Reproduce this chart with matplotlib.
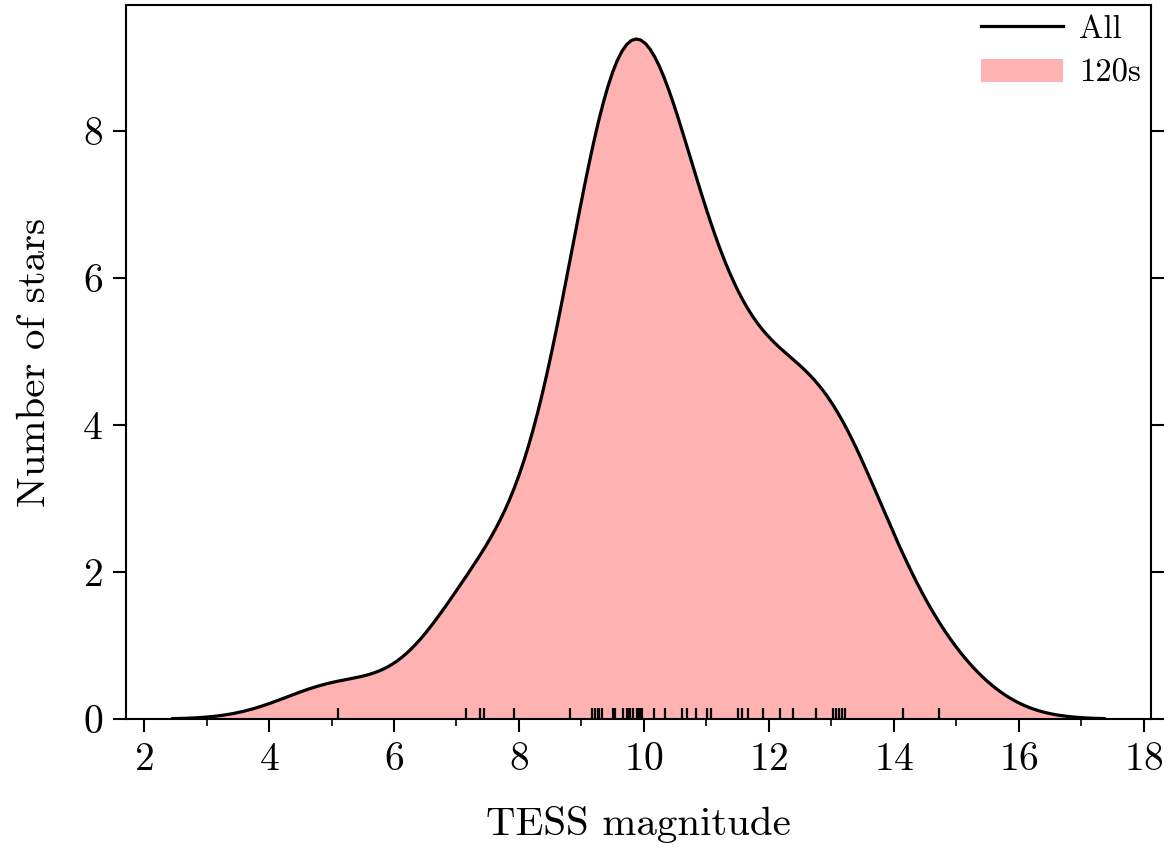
import numpy as np
import matplotlib.pyplot as plt
from matplotlib.lines import Line2D
from matplotlib.patches import Patch

plt.rcParams['font.family'] = 'cmr10'
plt.rcParams['mathtext.fontset'] = 'cm'
plt.rcParams['axes.formatter.use_mathtext'] = True

# TESS magnitudes of the stars (read off the rug marks; the solid block
# near 9.8 hides several stars)
tmag = [5.10, 7.16, 7.37, 7.44, 7.92, 8.82, 9.17, 9.22, 9.26, 9.28,
        9.33, 9.50, 9.54, 9.66, 9.73, 9.76, 9.78, 9.83, 9.89,
        9.91, 9.94, 9.97, 10.16, 10.34, 10.61, 10.69, 10.84, 11.01, 11.07,
        11.50, 11.57, 11.67, 11.91, 12.18, 12.39, 12.76, 13.02, 13.08, 13.12,
        13.17, 13.22, 14.14, 14.72]


def kde_counts(x, gridsize=200, cut=3, bw_adjust=0.94):
    # gaussian KDE (Scott's rule) scaled to number of stars
    x = np.asarray(x)
    n = len(x)
    bw = bw_adjust * np.std(x, ddof=1) * n ** (-1 / 5)
    grid = np.linspace(x.min() - cut * bw, x.max() + cut * bw, gridsize)
    dens = np.exp(-0.5 * ((grid[:, None] - x[None, :]) / bw) ** 2).sum(axis=1)
    dens /= bw * np.sqrt(2 * np.pi)
    return grid, dens


fig = plt.figure(figsize=(11.74, 8.48), dpi=100)
ax = fig.add_axes([0.1073, 0.1521, 0.8729, 0.842])

grid, counts = kde_counts(tmag)
ax.fill_between(grid, counts, color='red', alpha=0.3, linewidth=0)
ax.plot(grid, counts, color='black', linewidth=2.3)

ax.set_ylim(bottom=0)
ax.autoscale(False)
ax.vlines(tmag, 0, 0.015, transform=ax.get_xaxis_transform(),
          color='black', linewidth=1.6)

ax.set_xticks(np.arange(2, 19, 2))
ax.set_xticks(np.arange(3, 18, 2), minor=True)
ax.set_yticks([0, 2, 4, 6, 8])
ax.tick_params(axis='both', which='major', direction='out', length=9.5,
               width=1.5, labelsize=28.5, pad=7)
ax.tick_params(axis='x', which='minor', direction='out', length=5, width=1.2)
ax.tick_params(axis='y', right=True)
for s in ax.spines.values():
    s.set_linewidth(1.5)

ax.set_xlabel('TESS magnitude', fontsize=29.5, labelpad=20)
ax.set_ylabel('Number of stars', fontsize=29.5, labelpad=21)

handles = [Line2D([], [], color='black', linewidth=2.3),
           Patch(facecolor='red', alpha=0.3)]
ax.legend(handles, ['All', '120s'], loc='upper right', frameon=False,
          fontsize=23.5, handlelength=2.5, handletextpad=0.5,
          borderpad=0.2, borderaxespad=0.1, labelspacing=0.45)

plt.savefig('out.png', dpi=100)
